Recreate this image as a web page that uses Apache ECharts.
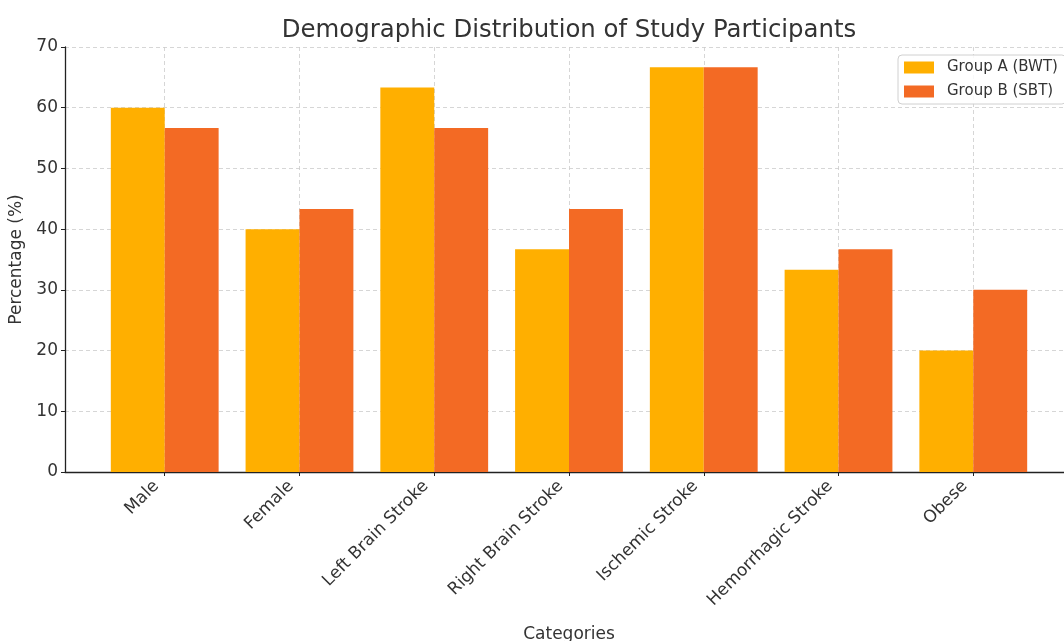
<!DOCTYPE html>
<html>
<head>
<meta charset="utf-8">
<script src="https://cdn.jsdelivr.net/npm/echarts@6/dist/echarts.min.js"></script>
<style>
  html, body { margin: 0; padding: 0; background: #fff; }
  #chart { width: 1064px; height: 641px; }
</style>
</head>
<body>
<div id="chart"></div>
<script>
// Participant demographics by group (percent of each group)
const categories = ['Male', 'Female', 'Left Brain Stroke', 'Right Brain Stroke', 'Ischemic Stroke', 'Hemorrhagic Stroke', 'Obese'];
const groupA = [60, 40, 63.33, 36.67, 66.67, 33.33, 20];
const groupB = [56.67, 43.33, 56.67, 43.33, 66.67, 36.67, 30];
const seriesNames = ['Group A (BWT)', 'Group B (SBT)'];
const yTicks = [0, 10, 20, 30, 40, 50, 60, 70];

const FONT = 'DejaVu Sans';
const TEXT = '#333333';

// Numeric x scale: categories sit at 0..n-1, bars are 0.4 units wide each
const xMin = -0.74, xMax = categories.length - 1 + 0.74;
const gridLeft = 65, gridTop = 47, gridWidth = 1008, gridHeight = 425;
const barW = gridWidth / (xMax - xMin) * 0.4;
const catIdx = categories.map((_, i) => i);

const chart = echarts.init(document.getElementById('chart'), null, { renderer: 'canvas' });

chart.setOption({
  animation: false,
  backgroundColor: '#ffffff',
  textStyle: { fontFamily: FONT, color: TEXT },
  title: {
    text: 'Demographic Distribution of Study Participants',
    left: 564,
    textAlign: 'center',
    top: 14,
    textStyle: { fontFamily: FONT, fontSize: 24.4, fontWeight: 'normal', color: TEXT }
  },
  legend: {
    orient: 'vertical',
    left: 898,
    top: 55,
    itemWidth: 30,
    itemHeight: 12,
    itemGap: 9,
    padding: [5, 8, 5, 6],
    borderColor: '#d0d0d0',
    borderWidth: 1,
    borderRadius: 4,
    backgroundColor: 'rgba(255,255,255,0.85)',
    icon: 'rect',
    textStyle: { fontFamily: FONT, fontSize: 15, color: TEXT, padding: [0, 0, 0, 8] },
    data: seriesNames
  },
  grid: {
    left: gridLeft, top: gridTop, width: gridWidth, height: gridHeight,
    containLabel: false, outerBoundsMode: 'none'
  },
  xAxis: {
    type: 'value',
    min: xMin,
    max: xMax,
    name: 'Categories',
    nameLocation: 'middle',
    nameGap: 154,
    nameTextStyle: { fontFamily: FONT, fontSize: 17, color: TEXT },
    axisLine: { show: true, onZero: false, lineStyle: { color: '#222', width: 1.3 } },
    axisTick: { show: true, customValues: catIdx, length: 4, lineStyle: { color: '#222' } },
    axisLabel: {
      customValues: catIdx,
      rotate: 45,
      margin: 3,
      padding: [0, 12, 0, 0],
      fontFamily: FONT,
      fontSize: 17,
      color: TEXT,
      formatter: v => categories[Math.round(v)] || ''
    },
    splitLine: { show: true, lineStyle: { color: '#cccccc', type: [4, 3], width: 0.8 } }
  },
  yAxis: {
    type: 'value',
    min: 0,
    max: 70,
    interval: 10,
    name: 'Percentage (%)',
    nameLocation: 'middle',
    nameRotate: 90,
    nameGap: 32,
    nameTextStyle: { fontFamily: FONT, fontSize: 17, color: TEXT },
    axisLine: { show: true, onZero: false, lineStyle: { color: '#222', width: 1.3 } },
    axisTick: { show: true, length: 4, lineStyle: { color: '#222' } },
    axisLabel: {
      fontFamily: FONT,
      fontSize: 17,
      color: TEXT,
      margin: 7,
      customValues: yTicks
    },
    splitLine: { show: true, lineStyle: { color: '#cccccc', type: [4, 3], width: 0.8 } }
  },
  series: [
    {
      name: seriesNames[0],
      type: 'bar',
      barWidth: barW,
      barGap: '0%',
      itemStyle: { color: '#FFAF00' },
      data: groupA.map((v, i) => [i, v])
    },
    {
      name: seriesNames[1],
      type: 'bar',
      barWidth: barW,
      barGap: '0%',
      itemStyle: { color: '#F36A24' },
      data: groupB.map((v, i) => [i, v])
    }
  ]
});
</script>
</body>
</html>
